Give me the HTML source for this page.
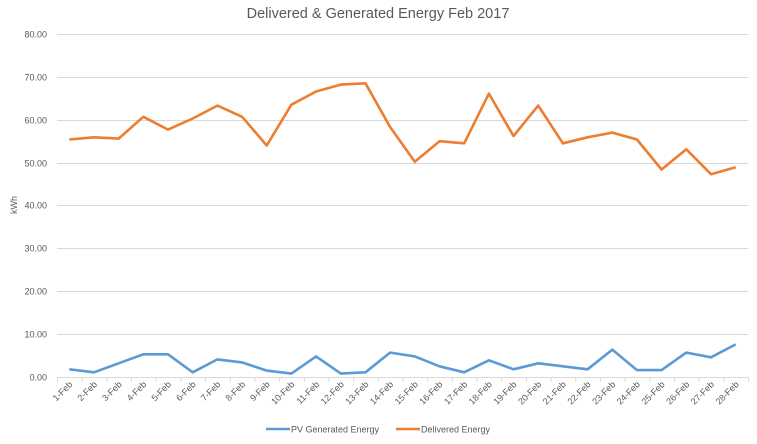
<!DOCTYPE html>
<html><head><meta charset="utf-8"><style>body{margin:0;background:#fff}svg{display:block}</style></head><body>
<svg width="757" height="444" xmlns="http://www.w3.org/2000/svg" font-family="Liberation Sans, sans-serif">
<text x="378" y="18" text-anchor="middle" font-size="14.5" fill="#595959">Delivered &amp; Generated Energy Feb 2017</text>
<g stroke="#d9d9d9" stroke-width="1">
<line x1="57" x2="748" y1="34.5" y2="34.5"/><line x1="57" x2="748" y1="77.5" y2="77.5"/><line x1="57" x2="748" y1="120.5" y2="120.5"/><line x1="57" x2="748" y1="163.5" y2="163.5"/><line x1="57" x2="748" y1="205.5" y2="205.5"/><line x1="57" x2="748" y1="248.5" y2="248.5"/><line x1="57" x2="748" y1="291.5" y2="291.5"/><line x1="57" x2="748" y1="334.5" y2="334.5"/><line x1="57" x2="748" y1="377.5" y2="377.5"/>
<path d="M57.5,377v5M82.2,377v5M106.9,377v5M131.5,377v5M156.2,377v5M180.9,377v5M205.6,377v5M230.3,377v5M254.9,377v5M279.6,377v5M304.3,377v5M329,377v5M353.7,377v5M378.3,377v5M403,377v5M427.7,377v5M452.4,377v5M477.1,377v5M501.7,377v5M526.4,377v5M551.1,377v5M575.8,377v5M600.5,377v5M625.1,377v5M649.8,377v5M674.5,377v5M699.2,377v5M723.9,377v5M748.5,377v5"/>
</g>
<g font-size="9" fill="#595959" text-anchor="end">
<text x="47" y="37.5">80.00</text><text x="47" y="80.5">70.00</text><text x="47" y="123.5">60.00</text><text x="47" y="166.5">50.00</text><text x="47" y="208.5">40.00</text><text x="47" y="251.5">30.00</text><text x="47" y="294.5">20.00</text><text x="47" y="337.5">10.00</text><text x="47" y="380.5">0.00</text>
</g>
<text transform="translate(17,205) rotate(-90)" text-anchor="middle" font-size="9" fill="#595959">kWh</text>
<polyline fill="none" stroke="#ed7d31" stroke-width="2.6" stroke-linejoin="round" points="69.3,139.5 94,137.3 118.7,138.6 143.3,116.8 168,129.6 192.7,118.5 217.4,105.6 242.1,116.8 266.7,145.5 291.4,104.7 316.1,91.5 340.8,84.6 365.5,83.3 390.1,127 414.8,161.8 439.5,141.2 464.2,143.3 488.9,93.6 513.5,136 538.2,105.6 562.9,143.3 587.6,137.3 612.3,132.6 636.9,139.5 661.6,169.5 686.3,149.3 711,174.2 735.7,167.3"/>
<polyline fill="none" stroke="#5b9bd5" stroke-width="2.6" stroke-linejoin="round" points="69.3,369.3 94,372.3 118.7,363.3 143.3,354.3 168,354.3 192.7,372.3 217.4,359.4 242.1,362.4 266.7,370.6 291.4,373.6 316.1,356.4 340.8,373.6 365.5,372.3 390.1,352.6 414.8,356.4 439.5,366.3 464.2,372.3 488.9,360.3 513.5,369.3 538.2,363.3 562.9,366.3 587.6,369.3 612.3,349.6 636.9,370.1 661.6,370.1 686.3,352.6 711,357.3 735.7,344.4"/>
<g font-size="9" fill="#595959" text-anchor="end">
<text transform="translate(73,385) rotate(-45)">1-Feb</text><text transform="translate(97.7,385) rotate(-45)">2-Feb</text><text transform="translate(122.4,385) rotate(-45)">3-Feb</text><text transform="translate(147,385) rotate(-45)">4-Feb</text><text transform="translate(171.7,385) rotate(-45)">5-Feb</text><text transform="translate(196.4,385) rotate(-45)">6-Feb</text><text transform="translate(221.1,385) rotate(-45)">7-Feb</text><text transform="translate(245.8,385) rotate(-45)">8-Feb</text><text transform="translate(270.4,385) rotate(-45)">9-Feb</text><text transform="translate(295.1,385) rotate(-45)">10-Feb</text><text transform="translate(319.8,385) rotate(-45)">11-Feb</text><text transform="translate(344.5,385) rotate(-45)">12-Feb</text><text transform="translate(369.2,385) rotate(-45)">13-Feb</text><text transform="translate(393.8,385) rotate(-45)">14-Feb</text><text transform="translate(418.5,385) rotate(-45)">15-Feb</text><text transform="translate(443.2,385) rotate(-45)">16-Feb</text><text transform="translate(467.9,385) rotate(-45)">17-Feb</text><text transform="translate(492.6,385) rotate(-45)">18-Feb</text><text transform="translate(517.2,385) rotate(-45)">19-Feb</text><text transform="translate(541.9,385) rotate(-45)">20-Feb</text><text transform="translate(566.6,385) rotate(-45)">21-Feb</text><text transform="translate(591.3,385) rotate(-45)">22-Feb</text><text transform="translate(616,385) rotate(-45)">23-Feb</text><text transform="translate(640.6,385) rotate(-45)">24-Feb</text><text transform="translate(665.3,385) rotate(-45)">25-Feb</text><text transform="translate(690,385) rotate(-45)">26-Feb</text><text transform="translate(714.7,385) rotate(-45)">27-Feb</text><text transform="translate(739.4,385) rotate(-45)">28-Feb</text>
</g>
<line x1="266" x2="290" y1="429" y2="429" stroke="#5b9bd5" stroke-width="2.6"/>
<text x="291" y="432.5" font-size="9" fill="#595959">PV Generated Energy</text>
<line x1="396" x2="420" y1="429" y2="429" stroke="#ed7d31" stroke-width="2.6"/>
<text x="421" y="432.5" font-size="9" fill="#595959">Delivered Energy</text>
</svg>
</body></html>
